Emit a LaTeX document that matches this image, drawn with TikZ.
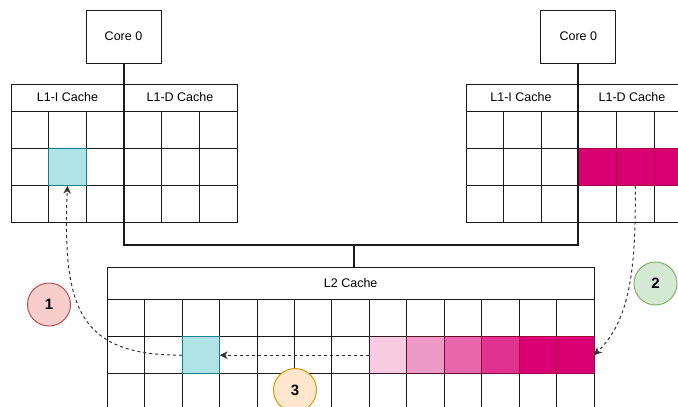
\documentclass[tikz,border=0pt]{standalone}
\usepackage{fontspec}
\setmainfont{Liberation Sans}
\usetikzlibrary{arrows.meta}

\definecolor{gridc}{HTML}{1A1A1A}
\definecolor{busc}{HTML}{1A1A1A}
\definecolor{flowc}{HTML}{333333}
\definecolor{tealfill}{HTML}{B0E3E6}
\definecolor{tealline}{HTML}{0E8088}
\definecolor{mag}{HTML}{D80073}
\definecolor{magdark}{HTML}{A50040}
\definecolor{redfill}{HTML}{F8CECC}
\definecolor{redline}{HTML}{B85450}
\definecolor{greenfill}{HTML}{D5E8D4}
\definecolor{greenline}{HTML}{82B366}
\definecolor{orangefill}{HTML}{FFE6CC}
\definecolor{orangeline}{HTML}{D79B00}

\begin{document}
\begin{tikzpicture}[x=1pt,y=-1pt,
  every node/.style={font=\fontsize{12.5}{15}\selectfont},
  box/.style={draw=gridc, line width=1pt, inner sep=0pt, outer sep=0pt},
  cellbox/.style={box, anchor=north west},
  l1cell/.style={cellbox, minimum width=37.67pt, minimum height=37.33pt},
  l2cell/.style={cellbox, minimum width=37.44pt, minimum height=37.45pt},
  headbox/.style={box, anchor=north west},
  corebox/.style={box, minimum width=75pt, minimum height=53pt},
  hitcell/.style={fill=tealfill, draw=tealline},
  bus/.style={draw=busc, line width=2pt},
  flow/.style={draw=flowc, line width=1pt, dash pattern=on 3pt off 3pt,
    -{Stealth[length=8pt,width=7.5pt,inset=2.5pt]}},
  badge/.style={circle, line width=1pt, minimum size=43pt, inner sep=0pt,
    font=\fontsize{15}{18}\selectfont\bfseries},
]
\useasboundingbox (0,0) rectangle (678,407);

% ---------- left core and its L1 caches ----------
\node[corebox] (coreL) at (123.5,36.5) {Core 0};
\node[headbox, minimum width=226pt, minimum height=27pt] (l1L-head) at (11,84) {};
\node (l1L-ilbl) at (67.5,97.5) {L1-I Cache};
\node (l1L-dlbl) at (180,97.5) {L1-D Cache};
\foreach \r in {0,1,2}
  \foreach \c in {0,...,5}
    \node[l1cell] (l1L-\r-\c) at ({11+37.67*\c},{111+37.33*\r}) {};
\node[l1cell, hitcell] (l1L-hit) at (l1L-1-1.north west) {};

% ---------- right core and its L1 caches ----------
\node[corebox] (coreR) at (578.3,36.5) {Core 0};
\node[headbox, minimum width=226pt, minimum height=27pt] (l1R-head) at (466,84) {};
\node (l1R-ilbl) at (521,97.5) {L1-I Cache};
\node (l1R-dlbl) at (632,97.5) {L1-D Cache};
\foreach \r in {0,1,2}
  \foreach \c in {0,...,5}
    \node[l1cell] (l1R-\r-\c) at ({466+37.6*\c},{111+37.33*\r}) {};
\foreach \c in {3,4,5}
  \node[l1cell, fill=mag, draw=magdark] (l1R-line-\c) at (l1R-1-\c.north west) {};

% ---------- shared L2 cache ----------
\node[headbox, minimum width=486.7pt, minimum height=32pt] (l2-head) at (107.3,267) {};
\node (l2-lbl) at (350.7,283) {L2 Cache};
\foreach \r in {0,1,2}
  \foreach \c in {0,...,12}
    \node[l2cell] (l2-\r-\c) at ({107.3+37.44*\c},{299+37.45*\r}) {};
\node[l2cell, hitcell] (l2-hit) at (l2-1-2.north west) {};
\foreach \c/\p in {7/20,8/40,9/60,10/80,11/100,12/100}
  \node[l2cell, fill=mag!\p!white, draw=magdark!\p!gridc] (l2-line-\c) at (l2-1-\c.north west) {};

% ---------- bus from both cores to L2 ----------
\coordinate (junc) at (353.5,245);
\draw[bus] (coreL.south) |- (junc);
\draw[bus] (coreR.south) |- (junc);
\draw[bus] (junc) -- (junc |- l2-head.north);

% ---------- data movements ----------
\draw[flow] (l2-1-2.west) .. controls (80,355.4) and (62,310) .. (l1L-1-1.south);
\draw[flow] (l1R-1-4.south) .. controls (636,270) and (630,320) .. (l2-1-12.east);
\draw[flow] (l2-1-7.west) -- (l2-1-2.east);

% ---------- step markers ----------
\node[badge, fill=redfill, draw=redline] (m1) at (49,304.5) {1};
\node[badge, fill=greenfill, draw=greenline] (m2) at (655.5,283.5) {2};
\node[badge, fill=orangefill, draw=orangeline] (m3) at (295,390) {3};
\end{tikzpicture}
\end{document}
